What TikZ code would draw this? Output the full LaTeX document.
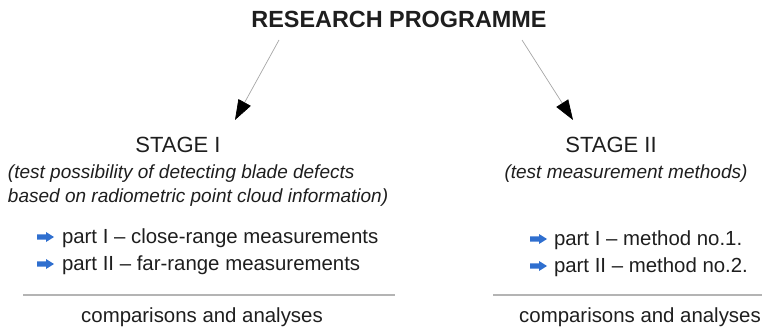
\documentclass[tikz,border=0pt]{standalone}
\usepackage{fontspec}
\setmainfont{Liberation Sans}
\usetikzlibrary{arrows.meta}
\definecolor{txt}{HTML}{1E1E1E}
\definecolor{bulletblue}{HTML}{2F6FCF}
\definecolor{sepgray}{HTML}{B4B4B4}
\tikzset{
  lbl/.style={inner sep=0pt, outer sep=0pt, text=txt, font=\fontsize{20.4}{24}\selectfont},
  itl/.style={inner sep=0pt, outer sep=0pt, text=txt, font=\fontsize{19}{22}\selectfont\itshape},
  stagelbl/.style={inner sep=0pt, outer sep=0pt, text=txt, font=\fontsize{22}{26}\selectfont},
  conn/.style={draw=gray!70, line width=0.7pt, -{Triangle[length=20pt,width=14pt,color=black,fill=black]}},
  sep/.style={draw=sepgray, line width=1.4pt},
  bularrow/.pic={\fill[bulletblue] (0,-2.6) -- (9,-2.6) -- (9,-5) -- (17,0) -- (9,5) -- (9,2.6) -- (0,2.6) -- cycle;}
}
\begin{document}
\begin{tikzpicture}[x=1pt,y=-1pt]
\useasboundingbox (0,0) rectangle (762,329);
% title
\node[inner sep=0pt, text=txt, font=\fontsize{23.4}{28}\selectfont\bfseries, anchor=base] (title) at (399,28) {RESEARCH PROGRAMME};
\coordinate (t1) at (279,40);
\coordinate (t2) at (522,40);
\coordinate (a1) at (235,120);
\coordinate (a2) at (573,120);
\draw[conn] (t1) -- (a1);
\draw[conn] (t2) -- (a2);
% stage I
\node[stagelbl, anchor=base] (s1) at (178,152) {STAGE I};
\node[itl, anchor=base west] (d1a) at (8,178) {(test possibility of detecting blade defects};
\node[itl, anchor=base west] (d1b) at (8,202) {based on radiometric point cloud information)};
\pic at (37,237) {bularrow};
\node[lbl, anchor=base west] (p11) at (62,243) {part I -- close-range measurements};
\pic at (37,264) {bularrow};
\node[lbl, anchor=base west] (p12) at (62,270) {part II -- far-range measurements};
\coordinate (l1a) at (23,295);
\coordinate (l1b) at (395,295);
\draw[sep] (l1a) -- (l1b);
\node[lbl, anchor=base] (c1) at (202,322) {comparisons and analyses};
% stage II
\node[stagelbl, anchor=base] (s2) at (611,152) {STAGE II};
\node[itl, anchor=base] (d2) at (626,178) {(test measurement methods)};
\pic at (530,239) {bularrow};
\node[lbl, anchor=base west] (p21) at (554,245) {part I -- method no.1.};
\pic at (530,266) {bularrow};
\node[lbl, anchor=base west] (p22) at (554,272) {part II -- method no.2.};
\coordinate (l2a) at (493,295);
\coordinate (l2b) at (762,295);
\draw[sep] (l2a) -- (l2b);
\node[lbl, anchor=base] (c2) at (640,322) {comparisons and analyses};
\end{tikzpicture}
\end{document}
